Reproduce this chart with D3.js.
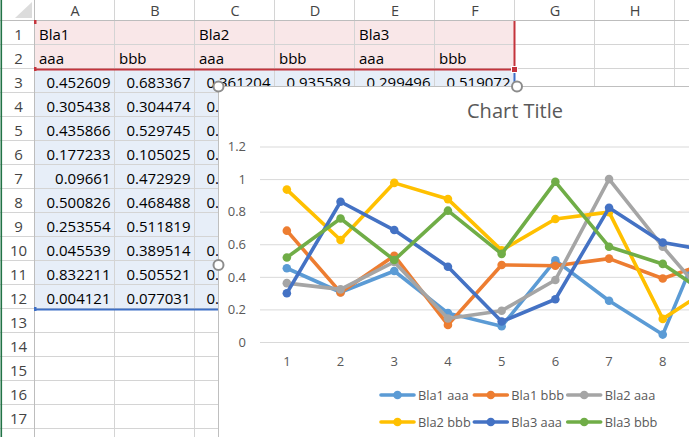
<!DOCTYPE html>
<html><head><meta charset="utf-8">
<script src="https://cdn.jsdelivr.net/npm/d3@7"></script>
<style>
html,body{margin:0;padding:0;background:#fff;overflow:hidden}
svg{display:block;font-family:"Open Sans","Noto Sans",sans-serif}
</style></head>
<body>
<svg id="c" width="689" height="437"></svg>
<script>
// ---- data ----
const categories = [1,2,3,4,5,6,7,8,9,10];
const groupNames = ["Bla1","","Bla2","","Bla3",""];
const subNames = ["aaa","bbb","aaa","bbb","aaa","bbb"];
const seriesNames = ["Bla1 aaa","Bla1 bbb","Bla2 aaa","Bla2 bbb","Bla3 aaa","Bla3 bbb"];
const bla1aaa = [0.452609,0.305438,0.435866,0.177233,0.09661,0.500826,0.253554,0.045539,0.832211,0.004121];
const bla1bbb = [0.683367,0.304474,0.529745,0.105025,0.472929,0.468488,0.511819,0.389514,0.505521,0.077031];
const bla2aaa = [0.361204,0.322815,0.491537,0.144362,0.192048,0.380715,1,0.585263,0.204917,0.312846];
const bla2bbb = [0.935589,0.626031,0.976842,0.877193,0.562307,0.755418,0.797126,0.141893,0.355604,0.608352];
const bla3aaa = [0.299496,0.860734,0.687215,0.461938,0.125407,0.262581,0.823649,0.610372,0.553018,0.497164];
const bla3bbb = [0.519072,0.758346,0.502871,0.806124,0.540763,0.983207,0.584926,0.479315,0.255482,0.412609];
const yTicks = [0,0.2,0.4,0.6,0.8,1,1.2];
const yTickLabels = ["0","0.2","0.4","0.6","0.8","1","1.2"];
const colLetters = ["A","B","C","D","E","F","G","H"];
const chartTitle = "Chart Title";

const seriesValues = [bla1aaa,bla1bbb,bla2aaa,bla2bbb,bla3aaa,bla3bbb];
const colors = ["#5B9BD5","#ED7D31","#A5A5A5","#FFC000","#4472C4","#70AD47"];

const svg = d3.select("#c");

// chart frame geometry
const cx0 = 218, cy0 = 86, cW = 598, cH = 358;

// clip: everything outside the chart frame
const defs = svg.append("defs");
defs.append("clipPath").attr("id","outsideChart").append("path")
  .attr("clip-rule","evenodd")
  .attr("d",`M0,0H689V437H0Z M${cx0},${cy0}H${cx0+cW}V${cy0+cH}H${cx0}Z`);

// ---- spreadsheet ----
const colW = 80, rowH = 24, hdrW = 35, hdrH = 21;
const colX = i => hdrW + i*colW;
const rowY = r => hdrH + (r-1)*rowH; // top of row r (1-based)
const nCols = 9, nRows = 17;

const sheet = svg.append("g");
// fills
sheet.append("rect").attr("x",colX(0)).attr("y",rowY(1)).attr("width",6*colW).attr("height",2*rowH).attr("fill","#f9e7e8");
sheet.append("rect").attr("x",colX(0)).attr("y",rowY(3)).attr("width",6*colW).attr("height",10*rowH).attr("fill","#e7eef8");
// gridlines
for(let i=0;i<=nCols;i++){
  sheet.append("line").attr("x1",colX(i)-0.5).attr("x2",colX(i)-0.5).attr("y1",0).attr("y2",437).attr("stroke","#d4d4d4");
}
for(let r=1;r<=nRows+2;r++){
  sheet.append("line").attr("x1",0).attr("x2",689).attr("y1",rowY(r)-0.5).attr("y2",rowY(r)-0.5).attr("stroke","#d4d4d4");
}
sheet.append("line").attr("x1",0).attr("x2",689).attr("y1",hdrH-0.5).attr("y2",hdrH-0.5).attr("stroke","#bdbdbd");
sheet.append("line").attr("x1",hdrW-0.5).attr("x2",hdrW-0.5).attr("y1",0).attr("y2",437).attr("stroke","#bdbdbd");
// corner triangle
sheet.append("path").attr("d","M15,18L32,18L32,2Z").attr("fill","#dcdcdc");
// window border
sheet.append("rect").attr("x",0.5).attr("y",0).attr("width",1.6).attr("height",437).attr("fill","#217346");
// column letters
colLetters.forEach((c,i)=>{
  sheet.append("text").attr("x",colX(i)+colW/2).attr("y",16).attr("text-anchor","middle")
    .attr("font-size",14.5).attr("fill","#444").text(c);
});
// row numbers
for(let r=1;r<=nRows;r++){
  sheet.append("text").attr("x",18.5).attr("y",rowY(r)+18.7).attr("text-anchor","middle")
    .attr("font-size",15).attr("fill","#444").text(r);
}
// header cells
groupNames.forEach((g,i)=>{
  if(g) sheet.append("text").attr("x",colX(i)+4).attr("y",rowY(1)+18.7).attr("font-size",15).attr("fill","#000").text(g);
});
subNames.forEach((g,i)=>{
  sheet.append("text").attr("x",colX(i)+4).attr("y",rowY(2)+18.7).attr("font-size",15).attr("fill","#000").text(g);
});
// value cells (cells lying completely under the chart are not drawn; partly covered ones are clipped)
const cellText = sheet.append("g").attr("clip-path","url(#outsideChart)");
seriesValues.forEach((arr,i)=>{
  arr.forEach((v,k)=>{
    const top = rowY(3+k);
    if (colX(i) >= cx0 && top >= cy0) return;
    const t = cellText.append("text").attr("x",colX(i+1)-4.5).attr("y",top+18.7).attr("text-anchor","end")
      .attr("font-size",15).attr("fill","#000").text(String(v));
  });
});
// range borders
const red = "#c4343c", blue = "#3d6fc6";
sheet.append("line").attr("x1",colX(0)).attr("x2",colX(6)).attr("y1",rowY(3)+0.5).attr("y2",rowY(3)+0.5).attr("stroke",red).attr("stroke-width",2);
sheet.append("line").attr("x1",colX(6)-0.5).attr("x2",colX(6)-0.5).attr("y1",rowY(1)).attr("y2",rowY(3)).attr("stroke",red).attr("stroke-width",2);
sheet.append("line").attr("x1",colX(6)-0.5).attr("x2",colX(6)-0.5).attr("y1",rowY(3)+3).attr("y2",rowY(13)).attr("stroke",blue).attr("stroke-width",2);
sheet.append("line").attr("x1",colX(0)).attr("x2",colX(6)).attr("y1",rowY(13)+0.5).attr("y2",rowY(13)+0.5).attr("stroke",blue).attr("stroke-width",2);
sheet.append("rect").attr("x",colX(0)-1).attr("y",rowY(1)-1).attr("width",2.5).attr("height",4).attr("fill",red);
sheet.append("rect").attr("x",colX(0)-1).attr("y",rowY(3)-2).attr("width",2.5).attr("height",4).attr("fill",red);
sheet.append("rect").attr("x",colX(0)-1).attr("y",rowY(13)-2).attr("width",2.5).attr("height",4).attr("fill",blue);
sheet.append("rect").attr("x",colX(6)-3.5).attr("y",rowY(3)-2.5).attr("width",6).attr("height",6).attr("fill",red).attr("stroke","#fff").attr("stroke-width",1);

// ---- chart ----
const chart = svg.append("g");
chart.append("rect").attr("x",cx0+0.5).attr("y",cy0+0.5).attr("width",cW).attr("height",cH)
  .attr("fill","#fff").attr("stroke","#bfbfbf");

chart.append("text").attr("x",cx0+cW/2-2).attr("y",118).attr("text-anchor","middle")
  .attr("font-size",20).attr("fill","#595959").text(chartTitle);

const plotL = 260, plotR = 797, plotT = 146.5, plotB = 342;
const x = d3.scaleBand().domain(categories).range([plotL, plotR]).padding(0);
const xc = c => x(c) + x.bandwidth()/2;
const y = d3.scaleLinear().domain([0,1.2]).range([plotB, plotT]);

const yAxis = d3.axisLeft(y).tickValues(yTicks).tickSizeInner(-(plotR-plotL)).tickSizeOuter(0)
  .tickPadding(14).tickFormat((d,i)=>yTickLabels[i]);
const gy = chart.append("g").attr("transform",`translate(${plotL},0)`).call(yAxis);
gy.select(".domain").remove();
gy.selectAll(".tick line").attr("stroke","#d9d9d9").attr("stroke-width",1);
gy.selectAll(".tick text").attr("font-size",13).attr("fill","#595959").attr("font-family","Open Sans, Noto Sans, sans-serif");

const xAxis = d3.axisBottom(x).tickSize(0).tickPadding(15);
const gx = chart.append("g").attr("transform",`translate(0,${plotB})`).call(xAxis);
gx.select(".domain").attr("stroke","#d9d9d9");
gx.selectAll(".tick text").attr("font-size",13).attr("fill","#595959").attr("font-family","Open Sans, Noto Sans, sans-serif");

const line = d3.line().x((d,i)=>xc(categories[i])).y(d=>y(d));
seriesValues.forEach((vals,si)=>{
  const g = chart.append("g");
  g.append("path").datum(vals).attr("d",line).attr("fill","none").attr("stroke",colors[si])
    .attr("stroke-width",3.6).attr("stroke-linejoin","round").attr("stroke-linecap","round");
  g.selectAll("circle").data(vals).join("circle")
    .attr("cx",(d,i)=>xc(categories[i])).attr("cy",d=>y(d)).attr("r",4.3).attr("fill",colors[si]);
});

// legend
const legX = [380, 473.3, 566.7], legY = [395, 422];
seriesNames.forEach((n,i)=>{
  const lx = legX[i%3], ly = legY[Math.floor(i/3)];
  const g = chart.append("g");
  g.append("line").attr("x1",lx+1).attr("x2",lx+34).attr("y1",ly).attr("y2",ly).attr("stroke",colors[i])
    .attr("stroke-width",3.6).attr("stroke-linecap","round");
  g.append("circle").attr("cx",lx+17.5).attr("cy",ly).attr("r",4.3).attr("fill",colors[i]);
  g.append("text").attr("x",lx+38).attr("y",ly+4.6).attr("font-size",12.8).attr("fill","#595959").text(n);
});

// selection handles
[[cx0+0.5,cy0+0.5],[cx0+cW/2,cy0+0.5],[cx0+0.5,cy0+cH/2]].forEach(p=>{
  chart.append("circle").attr("cx",p[0]).attr("cy",p[1]).attr("r",5).attr("fill","#fff")
    .attr("stroke","#8c8c8c").attr("stroke-width",2);
});
</script>
</body></html>
